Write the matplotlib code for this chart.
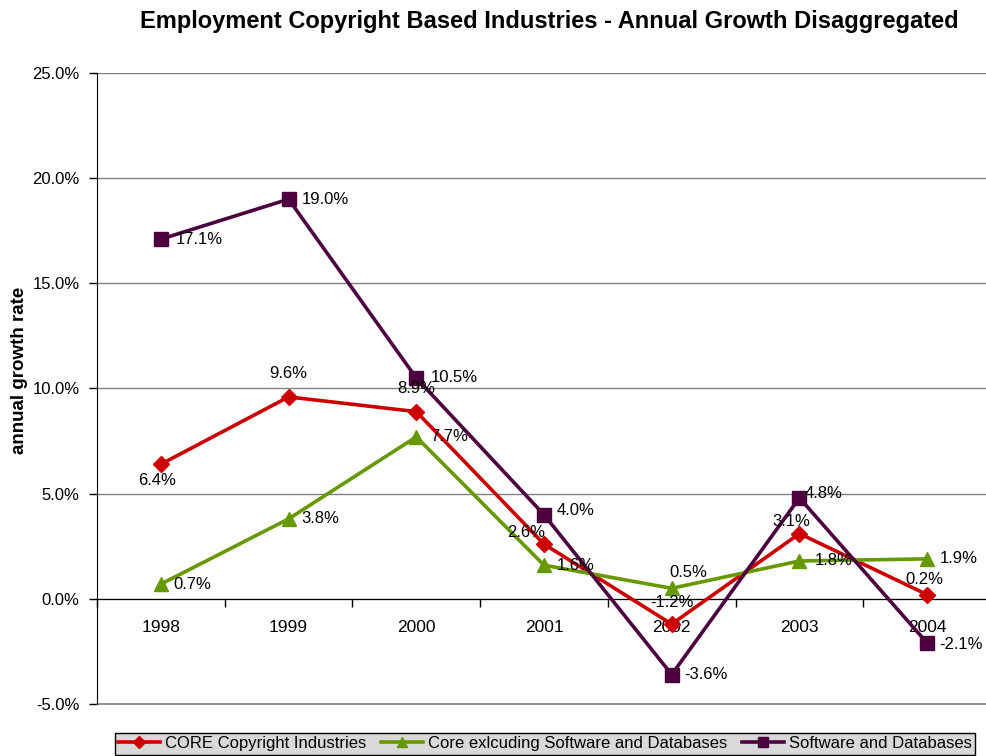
import matplotlib
matplotlib.use("Agg")
import matplotlib.pyplot as plt
from matplotlib.ticker import FuncFormatter, FixedLocator

plt.rcParams['font.family'] = ['Liberation Sans', 'DejaVu Sans']

years = ["1998", "1999", "2000", "2001", "2002", "2003", "2004"]
core = [6.4, 9.6, 8.9, 2.6, -1.2, 3.1, 0.2]
core_excl = [0.7, 3.8, 7.7, 1.6, 0.5, 1.8, 1.9]
software = [17.1, 19.0, 10.5, 4.0, -3.6, 4.8, -2.1]

series_names = ["CORE Copyright Industries",
                "Core exlcuding Software and Databases",
                "Software and Databases"]

# value label placement per point: (dx px, dy px, horizontal alignment)
core_lbl = [(-4, -16, "center"), (0, 23, "center"), (0, 23, "center"),
            (-18, 12, "center"), (0, 22, "center"), (-8, 12, "center"),
            (-3, 15, "center")]
excl_lbl = [(13, 0, "left"), (13, 0, "left"), (14, 0, "left"), (13, 0, "left"),
            (17, 16, "center"), (15, 0, "left"), (13, 0, "left")]
soft_lbl = [(15, 0, "left"), (13, 0, "left"), (14, 0, "left"), (13, 4, "left"),
            (13, 0, "left"), (5, 4, "left"), (12, -1, "left")]

fig = plt.figure(figsize=(9.87, 7.56), dpi=100)
ax = fig.add_axes([97 / 987, 1 - 704 / 756, (991 - 97) / 987, (704 - 73) / 756])

x = list(range(len(years)))
styles = [
    (core, "#cc0000", "D", 8, core_lbl),
    (core_excl, "#669900", "^", 10, excl_lbl),
    (software, "#4d0040", "s", 10, soft_lbl),
]
handles = []
for (vals, col, mk, ms, lbl), name in zip(styles, series_names):
    h, = ax.plot(x, vals, color=col, lw=2.6, marker=mk, ms=ms,
                 mfc=col, mec=col, label=name, zorder=3)
    handles.append(h)
    for xi, v, (dx, dy, ha) in zip(x, vals, lbl):
        ax.annotate(f"{v:.1f}%", (xi, v), xytext=(dx, dy), textcoords="offset pixels",
                    ha=ha, va="center", fontsize=12, color="black", zorder=4)

ax.set_xlim(-0.5, 6.5)
ax.set_ylim(-5, 25)
ax.set_yticks([-5, 0, 5, 10, 15, 20, 25])
ax.yaxis.set_major_formatter(FuncFormatter(lambda v, _: f"{v:.1f}%"))
ax.tick_params(axis="y", direction="out", length=6, width=1, pad=6.5, labelsize=12)
ax.grid(axis="y", color="#808080", lw=1.0)
ax.axhline(-5, color="#808080", lw=1.2, clip_on=False, zorder=1)
ax.set_axisbelow(True)

# category axis drawn along the zero line
ax.spines["bottom"].set_position(("data", 0))
ax.spines["bottom"].set_color("black")
ax.spines["top"].set_visible(False)
ax.spines["right"].set_visible(False)
ax.spines["left"].set_color("black")
ax.xaxis.set_major_locator(FixedLocator([i - 0.5 for i in range(len(years) + 1)]))
ax.xaxis.set_major_formatter(FuncFormatter(lambda v, _: ""))
ax.xaxis.set_minor_locator(FixedLocator(x))
ax.set_xticklabels(years, minor=True)
ax.tick_params(axis="x", which="major", direction="out", length=6, width=1)
ax.tick_params(axis="x", which="minor", length=0, pad=15, labelsize=12.5)

ax.set_ylabel("annual growth rate", fontsize=13.5, fontweight="bold")
ax.yaxis.set_label_coords(-0.077, (704 - 370) / (704 - 73))

fig.text(0.557, 0.971, "Employment Copyright Based Industries - Annual Growth Disaggregated",
         ha="center", va="center", fontsize=17, fontweight="bold")

leg = fig.legend(handles=handles, loc="upper center", bbox_to_anchor=(0.552, 1 - 733 / 756),
                 ncol=3, fontsize=12, frameon=True, fancybox=False, handlelength=2.5,
                 columnspacing=0.9, handletextpad=0.3, borderpad=0.2, borderaxespad=0,
                 markerscale=0.75)
leg.get_frame().set_facecolor("#d9d9d9")
leg.get_frame().set_edgecolor("black")
leg.get_frame().set_linewidth(1.0)
leg.get_frame().set_alpha(1)

fig.savefig("out.png", dpi=100)
